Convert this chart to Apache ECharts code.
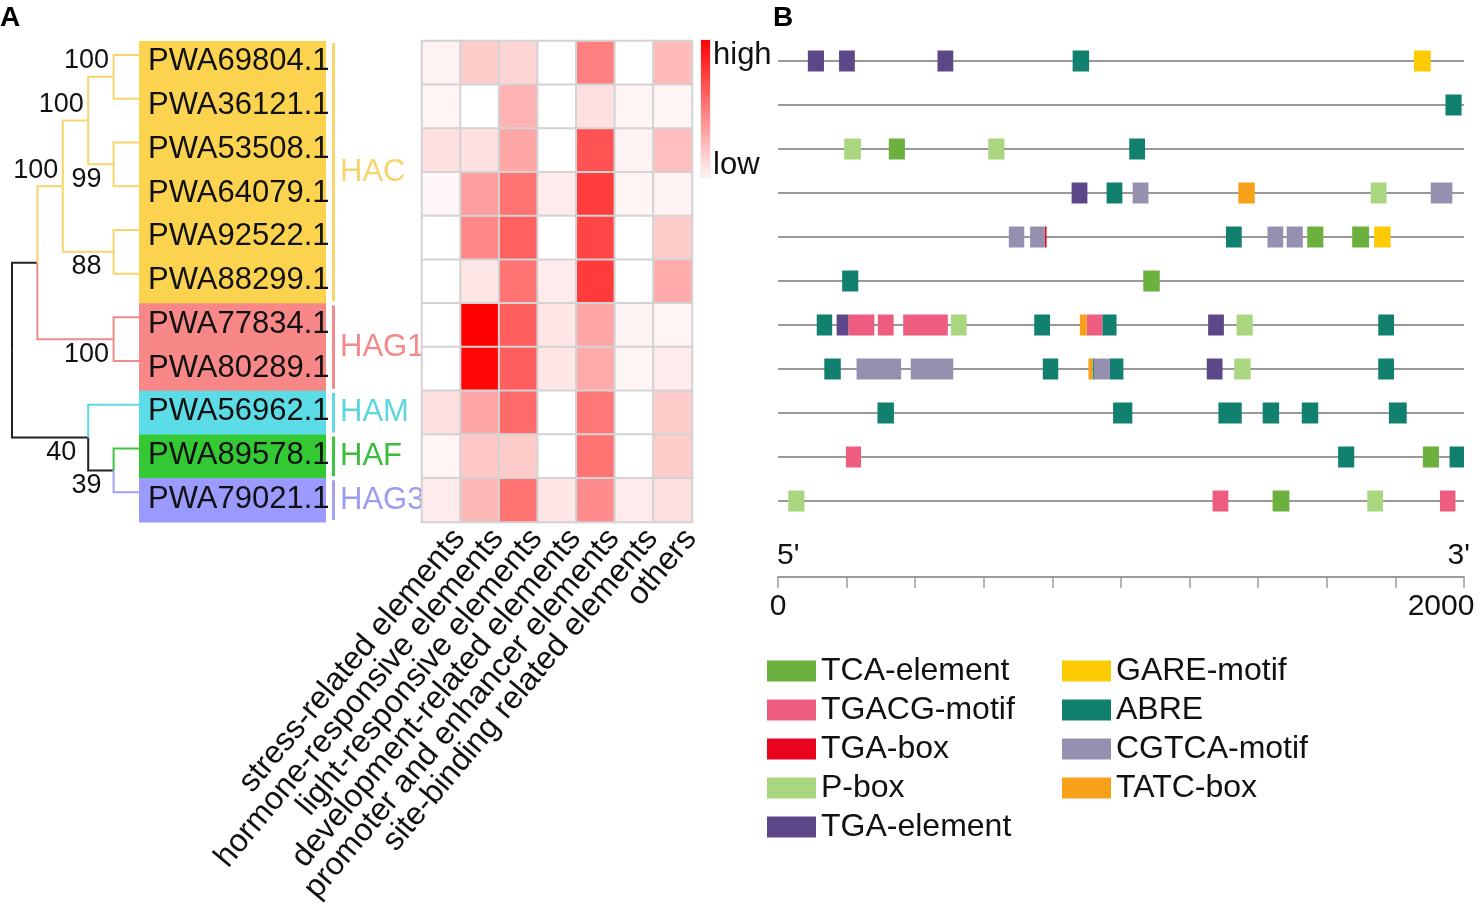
<!DOCTYPE html>
<html><head><meta charset="utf-8">
<script src="https://cdn.jsdelivr.net/npm/echarts@6/dist/echarts.min.js"></script>
<style>html,body{margin:0;padding:0;background:#fff}#c{width:1482px;height:907px}</style>
</head><body><div id="c"></div>
<script>
// ---------------- DATA ----------------
const genes = ['PWA69804.1','PWA36121.1','PWA53508.1','PWA64079.1','PWA92522.1','PWA88299.1','PWA77834.1','PWA80289.1','PWA56962.1','PWA89578.1','PWA79021.1'];
const geneGroups = ['HAC','HAC','HAC','HAC','HAC','HAC','HAG1','HAG1','HAM','HAF','HAG3'];
const groupNames = ['HAC','HAG1','HAM','HAF','HAG3'];
const elementClasses = ['stress-related elements','hormone-responsive elements','light-responsive elements','development-related elements','promoter and enhancer elements','site-binding related elements','others'];
// relative abundance per gene (rows) and element class (columns), 0 = low, 1 = high
const heatValues = [
  [0.05,0.20,0.17,0.00,0.50,0.00,0.27],
  [0.04,0.00,0.30,0.00,0.12,0.04,0.04],
  [0.12,0.12,0.35,0.00,0.68,0.05,0.25],
  [0.03,0.38,0.55,0.08,0.76,0.04,0.05],
  [0.00,0.47,0.62,0.00,0.73,0.00,0.20],
  [0.00,0.10,0.55,0.08,0.77,0.00,0.33],
  [0.00,1.00,0.63,0.10,0.35,0.05,0.04],
  [0.00,0.98,0.63,0.10,0.33,0.04,0.08],
  [0.12,0.35,0.58,0.00,0.53,0.00,0.20],
  [0.04,0.22,0.20,0.00,0.55,0.00,0.20],
  [0.08,0.28,0.55,0.10,0.45,0.08,0.12]
];
// phylogenetic tree: [id, parent, depth, bootstrap, clade]
const treeNodes = [
  ['n0', null, 0, null, 'root'],
  ['n1', 'n0', 1, null, 'root'],
  ['n2', 'n1', 2, 100, 'HAC'],
  ['n3', 'n2', 3, 100, 'HAC'],
  ['n4', 'n3', 4, 100, 'HAC'],
  ['n5', 'n3', 4, 99, 'HAC'],
  ['n6', 'n2', 4, 88, 'HAC'],
  ['n7', 'n1', 4, 100, 'HAG1'],
  ['n8', 'n0', 3, 40, 'root'],
  ['n9', 'n8', 4, 39, 'root']
];
const leafParents = ['n4','n4','n5','n5','n6','n6','n7','n7','n8','n9','n9'];
const leafDepth = 5;
// cis-acting elements
const elementTypes = ['TCA-element','TGACG-motif','TGA-box','P-box','TGA-element','GARE-motif','ABRE','CGTCA-motif','TATC-box'];
// [gene row, start bp, end bp, element type]
const elements = [
  [0,87,134,'TGA-element'],[0,178,224,'TGA-element'],[0,465,511,'TGA-element'],[0,859,907,'ABRE'],[0,1854,1903,'GARE-motif'],
  [1,1946,1993,'ABRE'],
  [2,193,242,'P-box'],[2,323,370,'TCA-element'],[2,613,660,'P-box'],[2,1024,1070,'ABRE'],
  [3,856,902,'TGA-element'],[3,958,1004,'ABRE'],[3,1034,1080,'CGTCA-motif'],[3,1342,1390,'TATC-box'],[3,1728,1774,'P-box'],[3,1903,1966,'CGTCA-motif'],
  [4,673,718,'CGTCA-motif'],[4,735,778,'CGTCA-motif'],[4,778,783,'TGA-box'],[4,1306,1352,'ABRE'],[4,1427,1473,'CGTCA-motif'],[4,1483,1530,'CGTCA-motif'],[4,1543,1590,'TCA-element'],[4,1674,1723,'TCA-element'],[4,1738,1786,'GARE-motif'],
  [5,187,234,'ABRE'],[5,1065,1113,'TCA-element'],
  [6,113,158,'ABRE'],[6,171,205,'TGA-element'],[6,205,281,'TGACG-motif'],[6,291,337,'TGACG-motif'],[6,365,495,'TGACG-motif'],[6,504,550,'P-box'],[6,747,793,'ABRE'],[6,880,900,'TATC-box'],[6,900,946,'TGACG-motif'],[6,946,987,'ABRE'],[6,1254,1300,'TGA-element'],[6,1337,1384,'P-box'],[6,1750,1796,'ABRE'],
  [7,135,183,'ABRE'],[7,229,359,'CGTCA-motif'],[7,387,511,'CGTCA-motif'],[7,772,817,'ABRE'],[7,905,917,'TATC-box'],[7,917,921,'ABRE'],[7,921,968,'CGTCA-motif'],[7,968,1007,'ABRE'],[7,1250,1296,'TGA-element'],[7,1330,1378,'P-box'],[7,1750,1796,'ABRE'],
  [8,290,338,'ABRE'],[8,977,1033,'ABRE'],[8,1284,1352,'ABRE'],[8,1413,1461,'ABRE'],[8,1527,1575,'ABRE'],[8,1781,1833,'ABRE'],
  [9,198,242,'TGACG-motif'],[9,1633,1680,'ABRE'],[9,1880,1927,'TCA-element'],[9,1958,2000,'ABRE'],
  [10,30,77,'P-box'],[10,1267,1313,'TGACG-motif'],[10,1442,1491,'TCA-element'],[10,1718,1764,'P-box'],[10,1930,1975,'TGACG-motif']
];
const seqMin = 0, seqMax = 2000, seqStep = 200;
const strandEnds = ["5'", "3'"];
const scaleTexts = ['high', 'low'];

// ---------------- STYLE ----------------
const FONT = 'Arial, "Liberation Sans", sans-serif';
const groupFill = {HAC:'#fbd34f', HAG1:'#f88787', HAM:'#5cdce6', HAF:'#34c934', HAG3:'#9a9aff'};
const groupLine = {HAC:'#f7d56c', HAG1:'#f18a8a', HAM:'#62d8e2', HAF:'#3fc43f', HAG3:'#a3a3f2', root:'#222'};
const groupText = {HAC:'#f6d46e', HAG1:'#f28a8a', HAM:'#5dd6e0', HAF:'#3cbd3c', HAG3:'#9c9cf0'};
const typeColors = {'TCA-element':'#6cb13e','TGACG-motif':'#ee5c80','TGA-box':'#e8041e','P-box':'#aad67f','TGA-element':'#5c4788','GARE-motif':'#fccb05','ABRE':'#11806f','CGTCA-motif':'#9590b0','TATC-box':'#f7a11b'};
const LEAF_DY = -0.18;           // branch sits slightly above the label centre
const bsAbove = {n2:true, n3:true, n4:true};

// ---------------- TREE LAYOUT ----------------
const nodeMap = {};
treeNodes.forEach(n => nodeMap[n[0]] = {id:n[0], parent:n[1], d:n[2], bs:n[3], clade:n[4], kids:[]});
const leaves = genes.map((g,i) => ({id:'L'+i, parent:leafParents[i], d:leafDepth, y:i+LEAF_DY, clade:geneGroups[i], kids:[]}));
leaves.forEach(l => nodeMap[l.parent].kids.push(l));
treeNodes.forEach(n => { if (n[1]) nodeMap[n[1]].kids.push(nodeMap[n[0]]); });
function yOf(n){ if (n.y !== undefined) return n.y; const ys = n.kids.map(yOf); n.y = (Math.min(...ys)+Math.max(...ys))/2; return n.y; }
yOf(nodeMap.n0);
const edges = [];
Object.values(nodeMap).concat(leaves).forEach(c => {
  if (!c.parent) return;
  const p = nodeMap[c.parent];
  edges.push({value:[p.d, p.y, c.d, c.y], color: groupLine[c.clade]});
});
const bsData = treeNodes.filter(n => n[3] !== null).map(n => ({value:[nodeMap[n[0]].d, nodeMap[n[0]].y, n[3]], above: !!bsAbove[n[0]]}));

const groupSpans = groupNames.map(g => { const rows = geneGroups.map((x,i)=>x===g?i:-1).filter(i=>i>=0); return {value:[1, rows[0], rows[rows.length-1]], name:g}; });

const heatData = [];
heatValues.forEach((row,r) => row.forEach((v,c) => heatData.push([c, r, v])));

// ---------------- CHART ----------------
const chart = echarts.init(document.getElementById('c'), null, {renderer:'canvas'});
const rowTop = 41, rowH = 481;
const typeSeries = elementTypes.map(t => ({
  name: t, type: 'custom', xAxisIndex: 4, yAxisIndex: 4, z: 5,
  itemStyle: {color: typeColors[t]},
  encode: {x:[0,1], y:2},
  data: elements.filter(e => e[3] === t).map(e => [e[1], e[2], e[0]]),
  renderItem: (params, api) => {
    const s = api.coord([api.value(0), api.value(2)]);
    const e = api.coord([api.value(1), api.value(2)]);
    return {type:'rect', shape:{x:s[0], y:s[1]-10.5, width:Math.max(1, e[0]-s[0]), height:21}, style:{fill: api.visual('color')}};
  }
}));
const legendBase = {orient:'vertical', icon:'rect', itemWidth:49, itemHeight:21, itemGap:7, padding:0,
  selectedMode:false, textStyle:{fontSize:32, color:'#111', fontFamily:FONT}};

const option = {
  animation: false,
  backgroundColor: '#fff',
  textStyle: {fontFamily: FONT},
  grid: [
    {left:12, top:rowTop, width:127, height:rowH},
    {left:139, top:rowTop, width:187, height:rowH},
    {left:422, top:rowTop, width:270, height:rowH},
    {left:440, top:rowTop, width:270, height:rowH},
    {left:778, top:39, width:686, height:484}
  ],
  xAxis: [
    {gridIndex:0, type:'value', min:0, max:leafDepth, show:false},
    {gridIndex:1, type:'value', min:0, max:1, show:false},
    {gridIndex:2, type:'category', data:elementClasses, axisLine:{show:false}, axisTick:{show:false}, axisLabel:{show:false}},
    {gridIndex:3, type:'category', data:elementClasses, axisLine:{show:false}, axisTick:{show:false},
      axisLabel:{interval:0, rotate:50, fontSize:32, color:'#111', margin:18, fontFamily:FONT}},
    {gridIndex:4, type:'value', min:seqMin, max:seqMax, interval:seqStep, offset:54,
      axisLine:{show:true, lineStyle:{color:'#9a9a9a', width:2}},
      axisTick:{show:true, length:11, lineStyle:{color:'#9a9a9a', width:1.5}},
      splitLine:{show:false},
      axisLabel:{fontSize:30, color:'#111', margin:15, fontFamily:FONT, alignMaxLabel:'center',
        rich:{m:{fontSize:30, color:'#111', fontFamily:FONT, padding:[0,46,0,0]}},
        formatter: v => v === seqMin ? String(v) : (v === seqMax ? '{m|' + v + '}' : '')}}
  ],
  yAxis: [
    {gridIndex:0, type:'value', min:-0.5, max:genes.length-0.5, inverse:true, show:false},
    {gridIndex:1, type:'category', data:genes, inverse:true, show:false},
    {gridIndex:2, type:'category', data:genes, inverse:true, show:false},
    {gridIndex:3, type:'category', data:genes, inverse:true, show:false},
    {gridIndex:4, type:'category', data:genes, inverse:true, show:false}
  ],
  visualMap: {show:false, type:'continuous', min:0, max:1, seriesIndex:3, inRange:{color:['#ffffff','#ff0000']}},
  legend: [
    Object.assign({data: elementTypes.slice(0,5), left:767, top:655}, legendBase),
    Object.assign({data: elementTypes.slice(5), left:1062, top:655}, legendBase)
  ],
  graphic: [
    {type:'text', left:0, top:4, style:{text:'A', font:'bold 28px '+FONT, fill:'#000'}},
    {type:'text', left:773, top:4, style:{text:'B', font:'bold 28px '+FONT, fill:'#000'}},
    {type:'rect', left:700, top:39, shape:{width:10, height:138},
      style:{fill:new echarts.graphic.LinearGradient(0,0,0,1,[{offset:0,color:'#ff0000'},{offset:1,color:'#fff6f6'}]), stroke:'#eee', lineWidth:1}},
    {type:'text', left:713, top:40, style:{text:scaleTexts[0], font:'31px '+FONT, fill:'#111'}},
    {type:'text', left:713, top:150, style:{text:scaleTexts[1], font:'31px '+FONT, fill:'#111'}},
    {type:'text', left:777, top:541, style:{text:strandEnds[0], font:'30px '+FONT, fill:'#111'}},
    {type:'text', right:12, top:541, style:{text:strandEnds[1], font:'30px '+FONT, fill:'#111'}}
  ],
  series: [
    // 0: tree branches
    {type:'custom', xAxisIndex:0, yAxisIndex:0, silent:true, encode:{x:[0,2], y:[1,3]},
     data: edges,
     renderItem: (params, api) => {
       const p1 = api.coord([api.value(0), api.value(1)]);
       const p2 = api.coord([api.value(0), api.value(3)]);
       const p3 = api.coord([api.value(2), api.value(3)]);
       return {type:'polyline', shape:{points:[p1,p2,p3]}, style:{stroke: edges[params.dataIndex].color, lineWidth:2, fill:null}};
     }},
    // 1: bootstrap values
    {type:'custom', xAxisIndex:0, yAxisIndex:0, silent:true, encode:{x:0, y:1}, z:4,
     data: bsData,
     renderItem: (params, api) => {
       const p = api.coord([api.value(0), api.value(1)]);
       const up = bsData[params.dataIndex].above;
       return {type:'text', x:p[0]-27, y:p[1] + (up ? -16 : 15),
         style:{text:String(api.value(2)), font:'27px '+FONT, fill:'#111', align:'center', verticalAlign:'middle'}};
     }},
    // 2: gene label boxes
    {type:'custom', xAxisIndex:1, yAxisIndex:1, silent:true, encode:{x:0, y:1},
     data: genes.map((g,i) => [0, i]),
     renderItem: (params, api) => {
       const i = api.value(1);
       const a = api.coord([0, i]), b = api.coord([1, i]);
       const h = api.size([0,1])[1];
       return {type:'group', children:[
         {type:'rect', shape:{x:a[0], y:a[1]-h/2, width:b[0]-a[0], height:h+0.6}, style:{fill: groupFill[geneGroups[i]]}},
         {type:'text', x:a[0]+9, y:a[1]-1, style:{text:genes[i], font:'31px '+FONT, fill:'#111', align:'left', verticalAlign:'middle'}}
       ]};
     }},
    // 3: heatmap
    {type:'heatmap', xAxisIndex:2, yAxisIndex:2, data: heatData, silent:true, z:3,
     itemStyle:{borderColor:'#d3d3d3', borderWidth:2}, emphasis:{disabled:true}},
    // 4: group bars and names
    {type:'custom', xAxisIndex:1, yAxisIndex:1, silent:true, encode:{x:0, y:[1,2]}, z:1,
     data: groupSpans,
     renderItem: (params, api) => {
       const g = groupSpans[params.dataIndex].name;
       const h = api.size([0,1])[1];
       const t = api.coord([1, api.value(1)]), b = api.coord([1, api.value(2)]);
       const y0 = t[1]-h/2+2, y1 = b[1]+h/2-2;
       return {type:'group', children:[
         {type:'rect', shape:{x:t[0]+6, y:y0, width:3, height:y1-y0}, style:{fill: groupLine[g]}},
         {type:'text', x:t[0]+14, y:(y0+y1)/2, style:{text:g, font:'31px '+FONT, fill: groupText[g], align:'left', verticalAlign:'middle'}}
       ]};
     }},
    // 5: promoter backbones
    {type:'custom', xAxisIndex:4, yAxisIndex:4, silent:true, encode:{x:[0,1], y:2}, z:2,
     data: genes.map((g,i) => [seqMin, seqMax, i]),
     renderItem: (params, api) => {
       const a = api.coord([api.value(0), api.value(2)]), b = api.coord([api.value(1), api.value(2)]);
       return {type:'line', shape:{x1:a[0], y1:a[1], x2:b[0], y2:b[1]}, style:{stroke:'#999', lineWidth:2}};
     }}
  ].concat(typeSeries)
};
chart.setOption(option);
</script>
</body></html>
